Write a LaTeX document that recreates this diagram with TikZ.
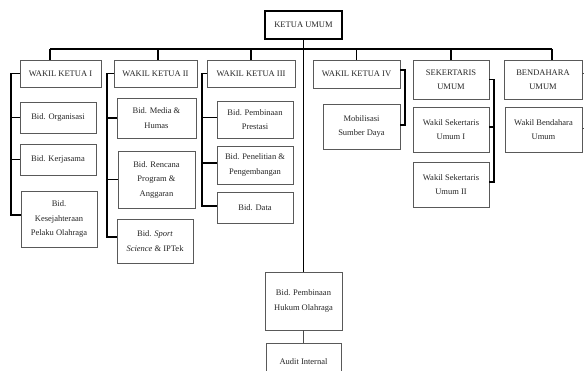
\documentclass[tikz,border=0pt]{standalone}
\usepackage{fontspec}
\setmainfont{Liberation Serif}
\begin{document}
\begin{tikzpicture}[x=1pt,y=-1pt,
  box/.style={draw=black!65, line width=0.8pt, align=center, inner sep=0pt,
    font=\fontsize{8.5}{14.5}\selectfont, text=black!85},
  conn/.style={draw=black, line width=1.3pt},
  thin/.style={draw=black!70, line width=0.9pt}]
\useasboundingbox[fill=white] (0,0) rectangle (584,371);
% top
\node[box, draw=black, line width=1.6pt, minimum width=77pt, minimum height=28pt] (ku) at (303.5,25) {KETUA UMUM};
% level 1
\node[box, minimum width=81pt, minimum height=27pt] (wk1) at (60.5,73.5) {WAKIL KETUA I};
\node[box, minimum width=83pt, minimum height=27pt] (wk2) at (155.5,73.5) {WAKIL KETUA II};
\node[box, minimum width=88pt, minimum height=27pt] (wk3) at (251,73.5) {WAKIL KETUA III};
\node[box, minimum width=87pt, minimum height=28pt] (wk4) at (356.5,74) {WAKIL KETUA IV};
\node[box, minimum width=76pt, minimum height=39pt] (sek) at (451,79.5) {SEKERTARIS\\UMUM};
\node[box, minimum width=78pt, minimum height=39pt] (ben) at (543,79.5) {BENDAHARA\\UMUM};
% column I
\node[box, minimum width=76pt, minimum height=31pt] (org) at (58,117.5) {Bid. Organisasi};
\node[box, minimum width=76pt, minimum height=31pt] (ker) at (58,159.5) {Bid. Kerjasama};
\node[box, minimum width=76pt, minimum height=56pt] (kes) at (59,219) {Bid.\\Kesejahteraan\\Pelaku Olahraga};
% column II
\node[box, minimum width=79pt, minimum height=40pt] (med) at (156.5,118) {Bid. Media \&\\Humas};
\node[box, minimum width=77pt, minimum height=57pt] (ren) at (156.5,179.5) {Bid. Rencana\\Program \&\\Anggaran};
\node[box, minimum width=76pt, minimum height=44pt] (spo) at (155,241) {Bid. \textit{Sport}\\\textit{Science} \& IPTek};
% column III
\node[box, minimum width=76pt, minimum height=37pt] (pre) at (255,119.5) {Bid. Pembinaan\\Prestasi};
\node[box, minimum width=76pt, minimum height=38pt] (pen) at (255,165) {Bid. Penelitian \&\\Pengembangan};
\node[box, minimum width=76pt, minimum height=31pt] (dat) at (255,207.5) {Bid. Data};
% column IV
\node[box, minimum width=77pt, minimum height=45pt] (mob) at (361.5,126.5) {Mobilisasi\\Sumber Daya};
% sekertaris
\node[box, minimum width=76pt, minimum height=45pt] (ws1) at (451,129.5) {Wakil Sekertaris\\Umum I};
\node[box, minimum width=76pt, minimum height=45pt] (ws2) at (451,184.5) {Wakil Sekertaris\\Umum II};
% bendahara
\node[box, minimum width=77pt, minimum height=45pt] (wb) at (543.5,129.5) {Wakil Bendahara\\Umum};
% center column
\node[box, minimum width=77pt, minimum height=58pt] (huk) at (303.5,301) {Bid. Pembinaan\\Hukum Olahraga};
\node[box, minimum width=75pt, minimum height=37pt] (aud) at (303.5,361.5) {Audit Internal};

% bus
\coordinate (bL) at (50,49);
\coordinate (bR) at (552,49);
\draw[conn] (bL) -- (bR);
\draw[conn] (bL) -- (bL |- wk1.north);
\draw[conn] ([xshift=2.5pt]wk2.north) -- ([xshift=2.5pt]wk2.north |- bL);
\draw[conn] (wk3.north) -- (wk3.north |- bL);
\draw[conn] (wk4.north) -- (wk4.north |- bL);
\draw[conn] (sek.north) -- (sek.north |- bL);
\draw[conn] (bR) -- (bR |- ben.north);
\draw[conn] (ku.south) -- (huk.north);
\draw[thin] (huk.south) -- (aud.north);

% column I
\coordinate (l1) at (11,0);
\draw[conn] (wk1.west) -| ([yshift=4pt]kes.west -| l1) -- ([yshift=4pt]kes.west);
\draw[conn] (org.west) -- (org.west -| l1);
\draw[conn] (ker.west) -- (ker.west -| l1);
% column II
\coordinate (l2) at (107,0);
\draw[conn] (wk2.west) -| ([yshift=4pt]spo.west -| l2) -- ([yshift=4pt]spo.west);
\draw[conn] (med.west) -- (med.west -| l2);
\draw[conn] (ren.west) -- (ren.west -| l2);
% column III
\coordinate (l3) at (202,0);
\draw[conn] (wk3.west) -| ([yshift=1.5pt]dat.west -| l3) -- ([yshift=1.5pt]dat.west);
\draw[conn] ([yshift=2pt]pre.west) -- ([yshift=2pt]pre.west -| l3);
\draw[conn] ([yshift=2pt]pen.west) -- ([yshift=2pt]pen.west -| l3);
% column IV
\coordinate (r4) at (405,0);
\draw[conn] ([yshift=4pt]wk4.east) -| ([yshift=1.5pt]mob.east -| r4) -- ([yshift=1.5pt]mob.east);
% sekertaris
\coordinate (r5) at (494,0);
\draw[conn] (sek.east) -| ([yshift=2.5pt]ws2.east -| r5) -- ([yshift=2.5pt]ws2.east);
\draw[conn] ([yshift=2.5pt]ws1.east) -- ([yshift=2.5pt]ws1.east -| r5);
% bendahara stubs
\coordinate (r6) at (590,0);
\draw[thin] ([yshift=6pt]ben.east) -- ([yshift=6pt]ben.east -| r6);
\draw[thin] ([yshift=1.5pt]wb.east) -- ([yshift=1.5pt]wb.east -| r6);
\end{tikzpicture}
\end{document}
